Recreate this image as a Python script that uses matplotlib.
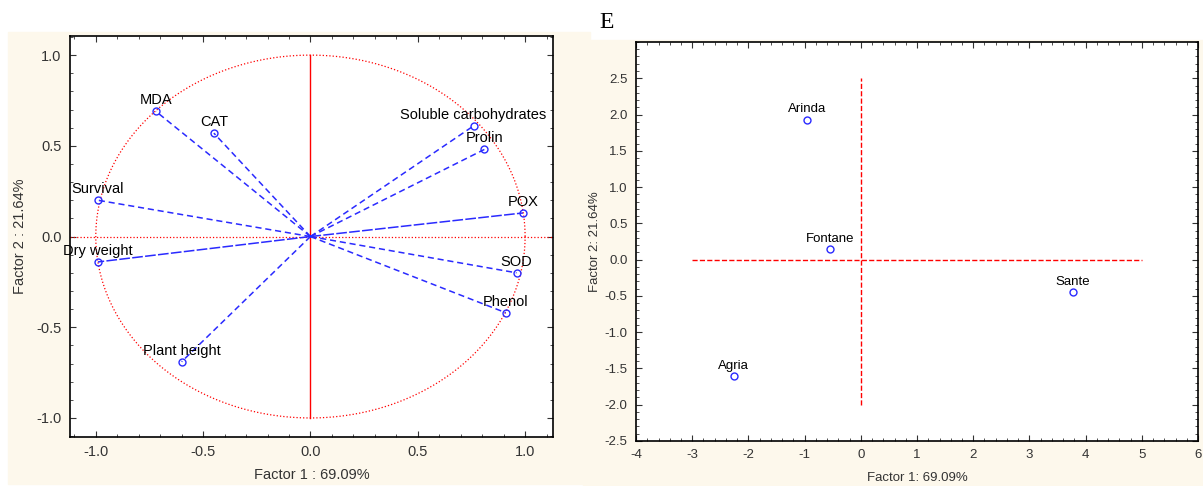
import matplotlib.pyplot as plt
import numpy as np
from matplotlib.patches import Rectangle
from matplotlib.ticker import MultipleLocator

plt.rcParams['font.family'] = ['Liberation Sans', 'DejaVu Sans']
plt.rcParams['axes.unicode_minus'] = False

# factor loadings (left panel)
var_names = ["MDA", "CAT", "Survival", "Dry weight", "Plant height",
             "Soluble carbohydrates", "Prolin", "POX", "SOD", "Phenol"]
load_f1 = [-0.72, -0.45, -0.99, -0.99, -0.60, 0.76, 0.81, 0.99, 0.96, 0.91]
load_f2 = [0.69, 0.57, 0.20, -0.14, -0.69, 0.61, 0.48, 0.13, -0.20, -0.42]

# case scores (right panel)
cultivars = ["Arinda", "Fontane", "Sante", "Agria"]
score_f1 = [-0.96, -0.55, 3.77, -2.26]
score_f2 = [1.93, 0.15, -0.45, -1.61]

cream = '#fdf8ec'
blue = '#2a2aff'

fig = plt.figure(figsize=(12.03, 4.86), dpi=100)
W, H = 1203, 486
fig.patches.append(Rectangle((8 / W, 1 - 484 / H), 582 / W, 452 / H,
                             transform=fig.transFigure, color=cream, zorder=-5))
fig.patches.append(Rectangle((583 / W, 0), 620 / W, 1 - 40 / H,
                             transform=fig.transFigure, color=cream, zorder=-5))
fig.text(607 / W, 1 - 22 / H, "E", family='Liberation Serif', fontsize=17,
         ha='center', va='center')

# ---- left: loading plot
ax1 = fig.add_axes([0.0582, 0.1008, 0.4015, 0.825])
t = np.linspace(0, 2 * np.pi, 400)
ax1.plot(np.cos(t), np.sin(t), color='red', ls=':', lw=0.9)
ax1.plot([0, 0], [-1, 1], color='red', lw=1.0)
ax1.axhline(0, color='red', ls=':', lw=0.9)
for name, x, y in zip(var_names, load_f1, load_f2):
    ls = (0, (7, 1.5)) if name in ("POX", "Dry weight") else (0, (4, 2.5))
    ax1.plot([0, x], [0, y], color=blue, ls=ls, lw=1.1)
    ax1.plot(x, y, 'o', mfc='none', mec=blue, ms=5, mew=1)
    ax1.annotate(name, (x, y), xytext=(0, 3), textcoords='offset points',
                 ha='center', va='bottom', fontsize=10.5)
ax1.set_xlim(-1.12, 1.13)
ax1.set_ylim(-1.105, 1.105)
ax1.xaxis.set_major_locator(MultipleLocator(0.5))
ax1.yaxis.set_major_locator(MultipleLocator(0.5))
ax1.xaxis.set_minor_locator(MultipleLocator(0.1))
ax1.yaxis.set_minor_locator(MultipleLocator(0.1))
ax1.set_xlabel("Factor 1 : 69.09%", fontsize=10.5, color='#333333', labelpad=6)
ax1.set_ylabel("Factor 2 : 21.64%", fontsize=10.5, color='#333333', labelpad=7)

# ---- right: score plot
ax2 = fig.add_axes([0.5287, 0.0926, 0.4672, 0.821])
ax2.plot([0, 0], [-2.0, 2.5], color='red', ls='--', lw=1.0)
ax2.plot([-3, 5], [0, 0], color='red', ls='--', lw=1.0)
ax2.plot(score_f1, score_f2, 'o', mfc='none', mec=blue, ms=5, mew=1)
for name, x, y in zip(cultivars, score_f1, score_f2):
    ax2.annotate(name, (x, y), xytext=(0, 3), textcoords='offset points',
                 ha='center', va='bottom', fontsize=9.5)
ax2.set_xlim(-4, 6)
ax2.set_ylim(-2.5, 3.0)
ax2.set_yticks(np.arange(-2.5, 2.6, 0.5))
ax2.xaxis.set_major_locator(MultipleLocator(1))
ax2.xaxis.set_minor_locator(MultipleLocator(0.2))
ax2.yaxis.set_minor_locator(MultipleLocator(0.1))
ax2.set_xlabel("Factor 1: 69.09%", fontsize=9.5, color='#333333', labelpad=8)
ax2.set_ylabel("Factor 2: 21.64%", fontsize=9.5, color='#333333', labelpad=3)

for ax in (ax1, ax2):
    ax.tick_params(which='both', direction='in', top=True, right=True,
                   labelsize=10.5 if ax is ax1 else 9.5, colors='#333333',
                   pad=6)
    ax.tick_params(which='major', length=4)
    ax.tick_params(which='minor', length=2)
    for s in ax.spines.values():
        s.set_linewidth(1.2)

fig.savefig("out.png", dpi=100)
